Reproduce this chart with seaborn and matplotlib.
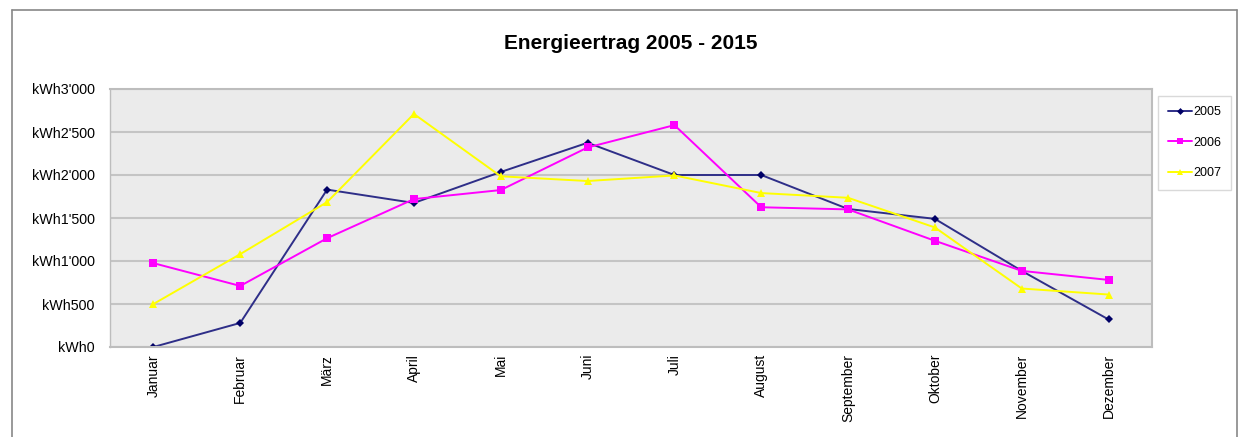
import pandas as pd
import matplotlib.pyplot as plt
from matplotlib.lines import Line2D
from matplotlib.ticker import FuncFormatter, MultipleLocator
import seaborn as sns

# Data
months = ["Januar", "Februar", "März", "April", "Mai", "Juni", "Juli",
          "August", "September", "Oktober", "November", "Dezember"]
y2005 = [0, 280, 1830, 1675, 2035, 2375, 2000, 2000, 1605, 1490, 885, 320]
y2006 = [975, 710, 1265, 1720, 1825, 2320, 2580, 1625, 1600, 1235, 885, 780]
y2007 = [500, 1080, 1685, 2710, 1985, 1930, 1995, 1790, 1735, 1390, 680, 610]
years = ["2005", "2006", "2007"]

df = pd.DataFrame({
    "month": months * 3,
    "pos": list(range(12)) * 3,
    "value": y2005 + y2006 + y2007,
    "year": [y for y in years for _ in months],
})

sns.set_theme(style="white")
plt.rcParams["font.family"] = ["Liberation Sans", "DejaVu Sans"]
plt.rcParams["text.color"] = "black"
plt.rcParams["xtick.labelcolor"] = "black"
plt.rcParams["ytick.labelcolor"] = "black"

fig = plt.figure(figsize=(12.49, 4.37), dpi=100)
ax = fig.add_axes([110 / 1249, 1 - 347 / 437, 1042 / 1249, 258 / 437])

palette = {"2005": "#2e2e88", "2006": "#ff00ff", "2007": "#ffff00"}
markers = {"2005": "D", "2006": "s", "2007": "^"}
sizes = {"2005": 4.5, "2006": 6, "2007": 6}
sns.lineplot(data=df, x="pos", y="value", hue="year", style="year",
             palette=palette, markers=markers, dashes=False, markersize=6,
             markeredgewidth=0, linewidth=1.4, ax=ax, legend=False)
# smaller, darker marker for 2005
for line in ax.lines:
    if line.get_marker() == "D":
        line.set_markerfacecolor("#000066")
        line.set_markersize(4.5)

ax.set_facecolor("#ebebeb")
ax.set_xlim(-0.5, 11.5)
ax.set_ylim(0, 3000)
ax.yaxis.set_major_locator(MultipleLocator(500))
ax.yaxis.set_major_formatter(FuncFormatter(
    lambda v, p: "kWh" + f"{int(v):,}".replace(",", "'")))
ax.grid(axis="y", color="#c4c4c4", linewidth=1.5)
ax.set_axisbelow(True)
ax.set_xticks(range(12))
ax.set_xticklabels(months, rotation=90)
ax.set_xticks([i + 0.5 for i in range(-1, 12)], minor=True)
ax.tick_params(axis="x", which="major", length=0, pad=5, labelsize=10)
ax.tick_params(axis="x", which="minor", length=3, color="#c4c4c4", width=1)
ax.tick_params(axis="y", length=4, color="#c4c4c4", width=1, pad=7,
               labelsize=10.3)
ax.set_xlabel("")
ax.set_ylabel("")
for s in ax.spines.values():
    s.set_color("#bdbdbd")
    s.set_linewidth(1.5)
ax.spines["left"].set_linewidth(1.0)

ax.set_title("Energieertrag 2005 - 2015", fontsize=15, fontweight="bold",
             pad=29, color="black")

handles = [Line2D([], [], color=palette[y], marker=markers[y],
                  markersize=sizes[y] - 1, markeredgewidth=0, linewidth=1.4,
                  markerfacecolor="#000066" if y == "2005" else palette[y])
           for y in years]
leg = fig.legend(handles, years, loc="upper left",
                 bbox_to_anchor=(1158 / 1249, 1 - 96 / 437),
                 frameon=True, fontsize=9, handlelength=1.9,
                 labelspacing=1.5, borderpad=0.8, handletextpad=0.1,
                 borderaxespad=0, fancybox=False)
leg.get_frame().set_edgecolor("#d0d0d0")
leg.get_frame().set_linewidth(1.0)

# outer frame
fig.add_artist(Line2D([12 / 1249, 1237 / 1249], [1 - 10 / 437] * 2,
                      color="#888888", linewidth=1.2))
fig.add_artist(Line2D([12 / 1249] * 2, [0, 1 - 10 / 437],
                      color="#888888", linewidth=1.2))
fig.add_artist(Line2D([1237 / 1249] * 2, [0, 1 - 10 / 437],
                      color="#888888", linewidth=1.2))

fig.savefig("out.png", dpi=100)
